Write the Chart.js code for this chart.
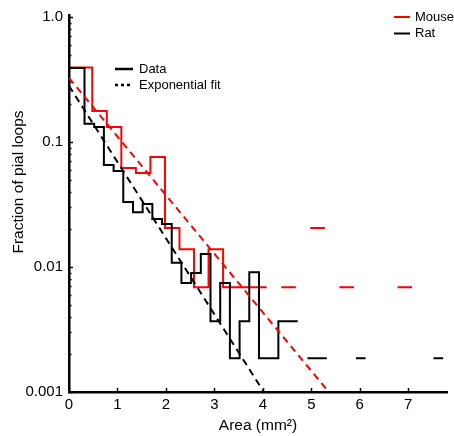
<!DOCTYPE html>
<html><head><meta charset="utf-8">
<script src="https://cdn.jsdelivr.net/npm/chart.js@4"></script>
<style>html,body{margin:0;padding:0;background:#fff}#wrap{width:454px;height:436px}</style>
</head><body><div id="wrap"><canvas id="c" width="454" height="436"></canvas></div>
<script>
// ---- data ----
const ratEdges = [0,0.32,0.52,0.72,0.92,1.12,1.32,1.52,1.72,1.92,2.12,2.32,2.52,2.72,2.92,3.12,3.32,3.52,3.72,3.92,4.12,4.32,4.52,4.72,4.92,5.12,5.32,5.52,5.72,5.92,6.12,6.32,6.52,6.72,6.92,7.12,7.32,7.52,7.72];
const ratValues = [0.392,0.14,0.132,0.0656,0.0587,0.0331,0.0275,0.0319,0.0242,0.0221,0.0108,0.00745,0.00894,0.0127,0.00369,0.00745,0.00186,0.00369,0.0091,0.00186,0.00186,0.00369,0.00369,null,0.00186,0.00186,null,null,null,0.00186,null,null,null,null,null,null,null,0.00186];
const mouseEdges = [0,0.48,0.78,1.08,1.38,1.68,1.98,2.28,2.58,2.88,3.18,3.48,3.78,4.08,4.38,4.68,4.98,5.28,5.58,5.88,6.18,6.48,6.78,7.08];
const mouseValues = [0.395,0.1775,0.132,0.062,0.0565,0.076,0.0205,0.0139,0.00689,0.0139,0.00689,0.00689,0.00689,null,0.00689,null,0.0205,null,0.00689,null,null,null,0.00689];
const mouseFitX = [0, 5.36];
const mouseFitY = [0.326, 0.001];
const ratFitX = [0, 4.02];
const ratFitY = [0.282, 0.001];
const xTickValues = [0,1,2,3,4,5,6,7];
const yTickValues = [0.001,0.01,0.1,1];
const yTickLabels = ['0.001','0.01','0.1','1.0'];
const seriesNames = ['Mouse','Rat'];
const styleNames = ['Data','Exponential fit'];
const xTitle = 'Area (mm²)';
const yTitle = 'Fraction of pial loops';

const FONT = '"Liberation Sans", Arial, sans-serif';

function stairs(edges, values){
  const pts = [];
  for (let i = 0; i < values.length; i++) {
    if (values[i] == null) { pts.push({x: edges[i], y: null}); }
    else { pts.push({x: edges[i], y: values[i]}); pts.push({x: edges[i+1], y: values[i]}); }
  }
  return pts;
}
function line(xs, ys){ return xs.map((x,i)=>({x:x, y:ys[i]})); }

const extras = {
  id: 'extras',
  afterDraw(chart){
    const ctx = chart.ctx, xs = chart.scales.x, ys = chart.scales.y, ca = chart.chartArea;
    ctx.save();
    ctx.strokeStyle = '#000'; ctx.lineWidth = 1.5; ctx.setLineDash([]);
    // inward ticks on x
    xTickValues.forEach(v => {
      const px = Math.round(xs.getPixelForValue(v)) + 0.5;
      ctx.beginPath(); ctx.moveTo(px, ca.bottom); ctx.lineTo(px, ca.bottom - 4); ctx.stroke();
    });
    // inward ticks on y (major + minor)
    for (let k = -3; k <= 0; k++) {
      for (let m = 1; m <= 9; m++) {
        const v = m * Math.pow(10, k);
        if (v > ys.max + 1e-9) break;
        const py = Math.round(ys.getPixelForValue(v)) + 0.5;
        const len = (m === 1) ? 4 : 2.5;
        ctx.beginPath(); ctx.moveTo(ca.left, py); ctx.lineTo(ca.left + len, py); ctx.stroke();
      }
    }
    // y title
    ctx.fillStyle = '#000';
    ctx.font = '15.5px ' + FONT;
    ctx.textAlign = 'center'; ctx.textBaseline = 'middle';
    ctx.save(); ctx.translate(19, 182); ctx.rotate(-Math.PI/2); ctx.fillText(yTitle, 0, 0); ctx.restore();
    // legends
    ctx.font = '13px ' + FONT; ctx.textAlign = 'left';
    const colors = ['#ff0000', '#000000'];
    seriesNames.forEach((n, i) => {
      const y = 17 + i * 16.5;
      ctx.strokeStyle = colors[i]; ctx.lineWidth = 2; ctx.setLineDash([]);
      ctx.beginPath(); ctx.moveTo(394, y); ctx.lineTo(410, y); ctx.stroke();
      ctx.fillText(n, 415, y);
    });
    styleNames.forEach((n, i) => {
      const y = 69 + i * 16;
      ctx.strokeStyle = '#000'; ctx.lineWidth = 2.5;
      ctx.setLineDash(i === 0 ? [] : [3, 3]);
      ctx.beginPath(); ctx.moveTo(115, y); ctx.lineTo(133, y); ctx.stroke();
      ctx.fillText(n, 139, y);
    });
    ctx.restore();
  }
};

new Chart(document.getElementById('c'), {
  type: 'line',
  data: {
    datasets: [
      { label: 'Rat fit', data: line(ratFitX, ratFitY), borderColor: '#000', borderWidth: 2, borderDash: [7,5], pointRadius: 0, order: 0, spanGaps: false },
      { label: 'Mouse fit', data: line(mouseFitX, mouseFitY), borderColor: '#ff0000', borderWidth: 2, borderDash: [7,5], pointRadius: 0, order: 1, spanGaps: false },
      { label: 'Rat', data: stairs(ratEdges, ratValues), borderColor: '#000', borderWidth: 2, pointRadius: 0, order: 2, spanGaps: false, tension: 0 },
      { label: 'Mouse', data: stairs(mouseEdges, mouseValues), borderColor: '#ff0000', borderWidth: 2, pointRadius: 0, order: 3, spanGaps: false, tension: 0 }
    ]
  },
  options: {
    responsive: false, animation: false, devicePixelRatio: 1,
    layout: { padding: { left: 0, right: 7, top: 15, bottom: 0 } },
    plugins: { legend: { display: false }, tooltip: { enabled: false } },
    scales: {
      x: {
        type: 'linear', min: 0, max: 7.8,
        afterFit(s){ s.height = 44; },
        grid: { display: false, drawTicks: false },
        border: { display: true, color: '#000', width: 2.5 },
        ticks: { stepSize: 1, includeBounds: false, color: '#000', padding: 4, maxRotation: 0, font: { family: FONT, size: 15 } },
        title: { display: true, text: xTitle, color: '#000', font: { family: FONT, size: 15.5 }, padding: { top: 1, bottom: 1 } }
      },
      y: {
        type: 'logarithmic', min: 0.001, max: 1.04,
        afterFit(s){ s.width = 69; },
        grid: { display: false, drawTicks: false },
        border: { display: true, color: '#000', width: 2.5 },
        ticks: {
          autoSkip: false, color: '#000', padding: 6, font: { family: FONT, size: 15 },
          callback(v){ const i = yTickValues.findIndex(t => Math.abs(t - v) / t < 1e-6); return i >= 0 ? yTickLabels[i] : null; }
        }
      }
    }
  },
  plugins: [extras]
});
</script>
</body></html>
